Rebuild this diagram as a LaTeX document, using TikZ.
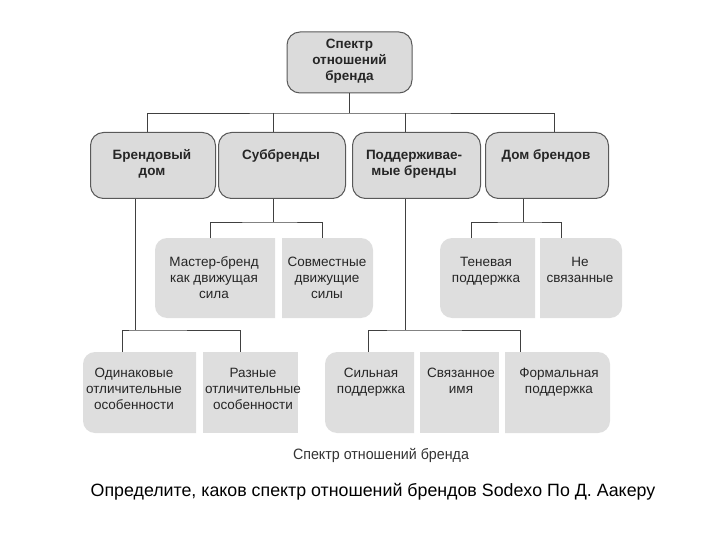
\documentclass[tikz,border=0pt]{standalone}
\usepackage{fontspec}
\setmainfont{Liberation Sans}
\newcommand\mlines[1]{\renewcommand\arraystretch{1.0}\begin{tabular}[t]{@{}c@{}}#1\end{tabular}}
\begin{document}
\begin{tikzpicture}[x=1pt,y=-1pt,
  top/.style={draw=black!65,line width=1pt,fill=black!14,rounded corners=13pt,inner sep=0pt},
  bt/.style={font=\bfseries\fontsize{13.5}{16}\selectfont,anchor=base,text=black!85,inner sep=0pt},
  lf/.style={fill=black!13},
  txt/.style={font=\fontsize{13.5}{16}\selectfont,text=black!85,anchor=base,inner sep=0pt},
  ln/.style={draw=black!75,line width=0.8pt}]
\useasboundingbox (0,0) rectangle (720,540);
% top
\node[top,minimum width=125pt,minimum height=61pt] (root) at (349.5,62.5) {};
\node[bt] (rt) at (349.5,49) {\mlines{Спектр\\отношений\\бренда}};
\node[top,minimum width=125pt,minimum height=66pt,anchor=north west] (bd) at (90,132) {};
\node[top,minimum width=127pt,minimum height=66pt,anchor=north west] (sb) at (218,132) {};
\node[top,minimum width=128pt,minimum height=66pt,anchor=north west] (pb) at (352,132) {};
\node[top,minimum width=123pt,minimum height=66pt,anchor=north west] (db) at (485,132) {};
\node[bt] (t1) at (152,160) {\mlines{Брендовый\\дом}};
\node[bt] (t2) at (281,160) {\mlines{Суббренды}};
\node[bt] (t3) at (414,160) {\mlines{Поддерживае-\\мые бренды}};
\node[bt] (t4) at (546,160) {\mlines{Дом брендов}};
% level 3 backgrounds
\fill[lf] (275,238) [rounded corners=12pt] -- (155,238) -- (155,318) [sharp corners] -- (275,318) -- cycle;
\fill[lf] (282,238) [rounded corners=12pt] -- (373,238) -- (373,318) [sharp corners] -- (282,318) -- cycle;
\fill[lf] (535,238) [rounded corners=12pt] -- (440,238) -- (440,318) [sharp corners] -- (535,318) -- cycle;
\fill[lf] (540,238) [rounded corners=12pt] -- (622,238) -- (622,318) [sharp corners] -- (540,318) -- cycle;
\node[txt] (m1) at (214,266) {\mlines{Мастер-бренд\\как движущая\\сила}};
\node[txt] (m2) at (327,266) {\mlines{Совместные\\движущие\\силы}};
\node[txt] (n1) at (486,266) {\mlines{Теневая\\поддержка}};
\node[txt] (n2) at (580,266) {\mlines{Не\\связанные}};
% level 4 backgrounds
\fill[lf] (196,352) [rounded corners=12pt] -- (83,352) -- (83,433) [sharp corners] -- (196,433) -- cycle;
\fill[lf] (203,352) rectangle (298,433);
\fill[lf] (414,352) [rounded corners=12pt] -- (325,352) -- (325,433) [sharp corners] -- (414,433) -- cycle;
\fill[lf] (420,352) rectangle (499,433);
\fill[lf] (505,352) [rounded corners=12pt] -- (610,352) -- (610,433) [sharp corners] -- (505,433) -- cycle;
\node[txt] (o1) at (134,377) {\mlines{Одинаковые\\отличительные\\особенности}};
\node[txt] (o2) at (253,377) {\mlines{Разные\\отличительные\\особенности}};
\node[txt] (s1) at (371,377) {\mlines{Сильная\\поддержка}};
\node[txt] (s2) at (461,377) {\mlines{Связанное\\имя}};
\node[txt] (s3) at (559,377) {\mlines{Формальная\\поддержка}};
% connectors
\coordinate (h) at (349.5,113);
\draw[ln] (root.south) -- (h);
\draw[ln] (147,132) |- (h) -| (554,132);
\draw[ln] (273,113) -- (273,132);
\draw[ln] (405,113) -- (405,132);
\coordinate (c1) at (273,222);
\draw[ln] (c1 |- sb.south) -- (c1);
\draw[ln] (210,238) |- (c1) -| (322,238);
\coordinate (c2) at (523,222);
\draw[ln] (c2 |- db.south) -- (c2);
\draw[ln] (471,238) |- (c2) -| (561,238);
\coordinate (c3) at (135,330);
\draw[ln] (c3 |- bd.south) -- (c3);
\draw[ln] (122,352) |- (c3) -| (240,352);
\coordinate (c4) at (405,330);
\draw[ln] (c4 |- pb.south) -- (c4);
\draw[ln] (368,352) |- (c4) -| (520,352);
% captions
\node[font=\fontsize{15}{17}\selectfont,text=black!80,xscale=0.95] (cap) at (381,455) {Спектр отношений бренда};
\node[font=\fontsize{17.8}{20}\selectfont] (q) at (373,492) {Определите, каков спектр отношений брендов Sodexo По Д. Аакеру};
\end{tikzpicture}
\end{document}
